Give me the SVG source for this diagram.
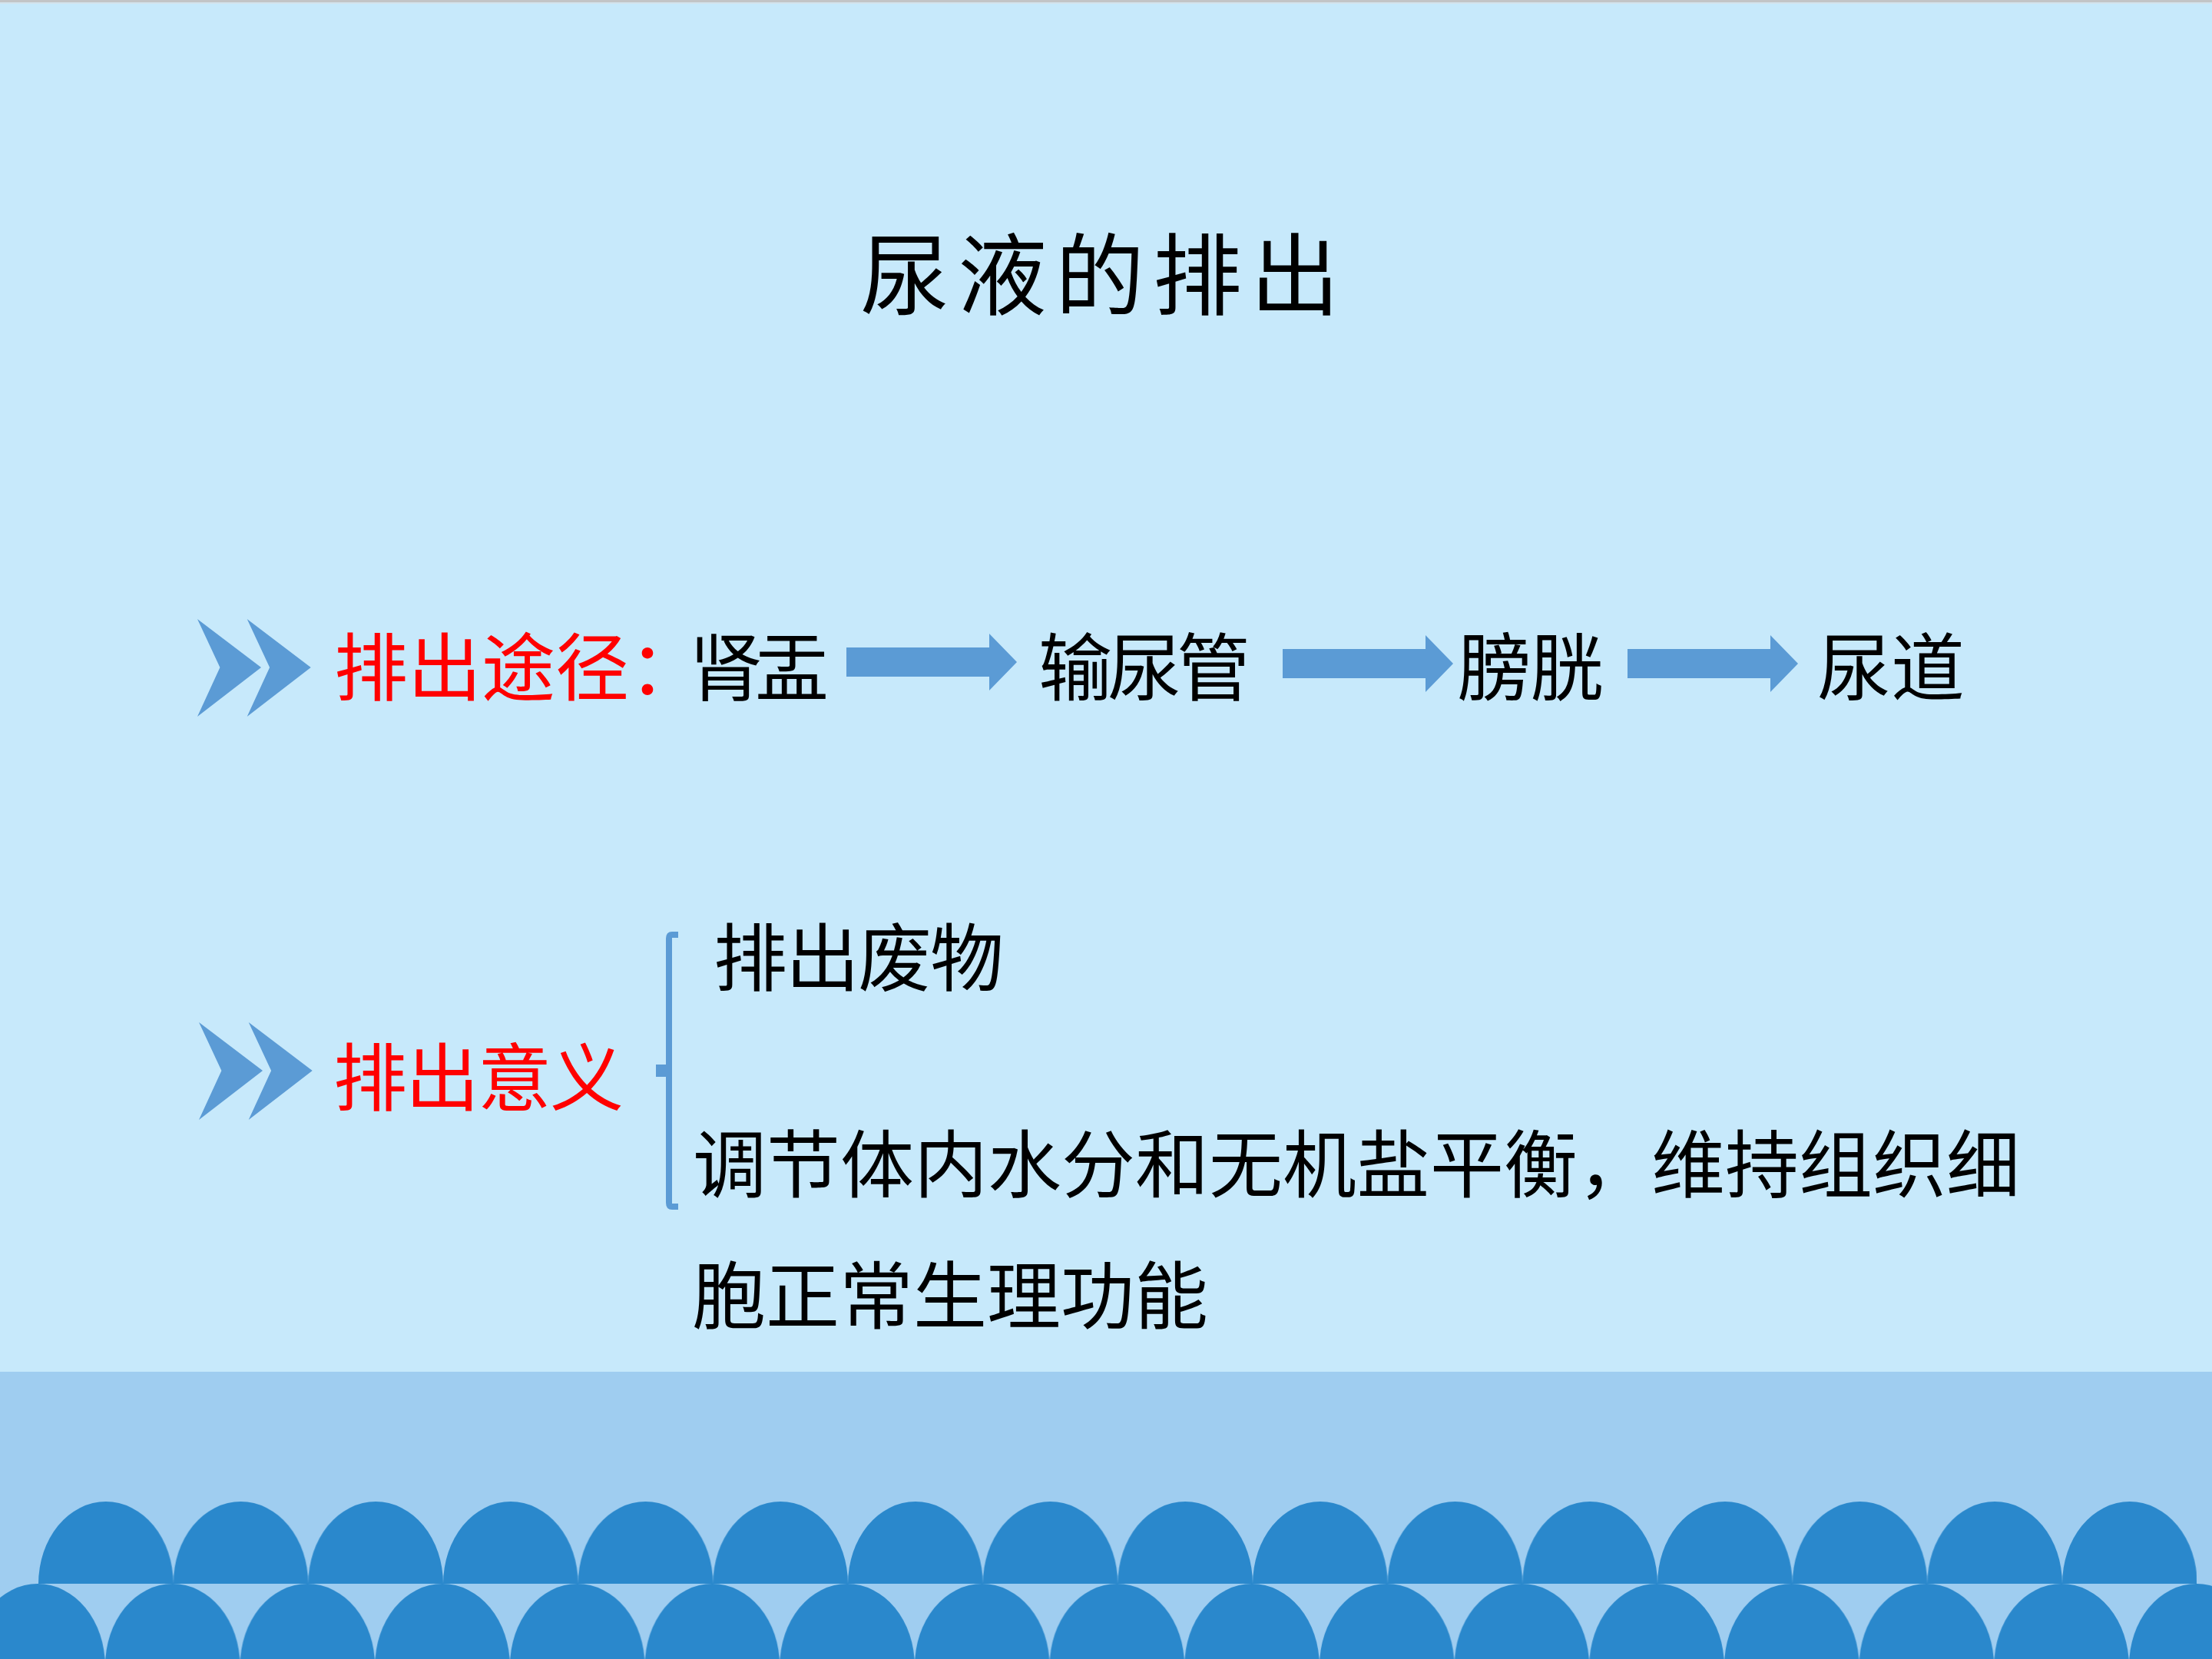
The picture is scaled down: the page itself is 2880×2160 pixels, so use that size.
<svg xmlns="http://www.w3.org/2000/svg" xmlns:xlink="http://www.w3.org/1999/xlink" width="2880" height="2160" viewBox="0 0 2880 2160">
<style>
.t{font-family:'Noto Sans CJK SC','Noto Sans CJK TC','Noto Sans',sans-serif;font-size:96px;fill:#000}
.red{fill:#FF0000}
.title{font-size:116px}
.blue{fill:#5B9BD5}
.scal{fill:#2A88CC}
</style>
<defs>
<polygon id="chev" points="0,0 83,63 0,127 29.4,63"/>
<path id="arrow" d="M0,-19 H186 V-37 L222,0 L186,37 V19 H0 Z"/>
<pattern id="scTop" patternUnits="userSpaceOnUse" x="50" y="1955" width="175.67" height="107">
<path class="scal" d="M0,107 A87.835,107 0 0 1 175.67,107 Z"/>
</pattern>
<pattern id="scBot" patternUnits="userSpaceOnUse" x="-38.8" y="2062" width="175.67" height="107">
<path class="scal" d="M0,107 A87.835,107 0 0 1 175.67,107 Z"/>
</pattern>
</defs>

<g id="background">
<rect x="0" y="0" width="2880" height="2160" fill="#C7E9FB"/>
<rect x="0" y="0" width="2880" height="3" fill="#C2C4C6"/>
<rect x="0" y="3" width="2880" height="2" fill="#D3E3EC"/>
<rect x="0" y="1786" width="2880" height="374" fill="#9FCDF0"/>
<rect x="50" y="1955" width="2810" height="107" fill="url(#scTop)"/>
<rect x="0" y="2062" width="2880" height="98" fill="url(#scBot)"/>
</g>

<g id="title">
<text class="t title" x="1120 1247 1374 1501 1628" y="401">尿液的排出</text>
</g>

<g id="chevrons" class="blue">
<use xlink:href="#chev" x="257" y="806"/>
<use xlink:href="#chev" x="321.7" y="806"/>
<use xlink:href="#chev" x="259" y="1331"/>
<use xlink:href="#chev" x="323.7" y="1331"/>
</g>

<g id="node-route-label">
<text class="t red" x="435 531 627 723 819" y="904">排出途径：</text>
</g>
<g id="node-shenyu">
<text class="t" x="897 983" y="904">肾盂</text>
</g>
<g id="node-shuniaoguan">
<text class="t" x="1352 1442 1532" y="904">输尿管</text>
</g>
<g id="node-pangguang">
<text class="t" x="1898 1992" y="904">膀胱</text>
</g>
<g id="node-niaodao">
<text class="t" x="2366 2462" y="904">尿道</text>
</g>

<g id="connectors" class="blue">
<use xlink:href="#arrow" x="1102" y="862"/>
<use xlink:href="#arrow" x="1670" y="864"/>
<use xlink:href="#arrow" x="2119" y="864"/>
<path d="M883,1217 H875 Q871,1217 871,1222 V1390 H858 V1398 H871 V1566 Q871,1571 875,1571 H883" fill="none" stroke="#5B9BD5" stroke-width="8"/>
</g>

<g id="node-meaning-label">
<text class="t red" x="434 528 622 716" y="1438">排出意义</text>
</g>
<g id="node-meaning-1">
<text class="t" x="929 1023 1117 1211" y="1282">排出废物</text>
</g>
<g id="node-meaning-2">
<text class="t" x="902" y="1551">调节体内水分和无机盐平衡，维持组织细</text>
<text class="t" x="901" y="1722">胞正常生理功能</text>
</g>
</svg>
